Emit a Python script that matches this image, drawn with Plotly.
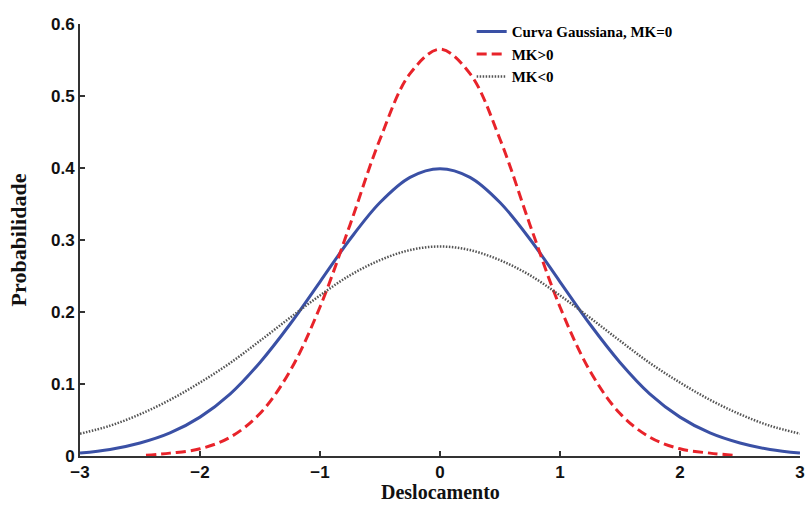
import plotly.graph_objects as go

x_vals = [-3.0, -2.75, -2.5, -2.25, -2.0, -1.75, -1.5, -1.25, -1.0, -0.75, -0.5, -0.25,
          0.0, 0.25, 0.5, 0.75, 1.0, 1.25, 1.5, 1.75, 2.0, 2.25, 2.5, 2.75, 3.0]

gauss_vals = [0.004, 0.009, 0.018, 0.032, 0.054, 0.086, 0.130, 0.183, 0.242, 0.301, 0.352, 0.387,
              0.399, 0.387, 0.352, 0.301, 0.242, 0.183, 0.130, 0.086, 0.054, 0.032, 0.018, 0.009, 0.004]

x_pos = [-2.45, -2.25, -2.0, -1.75, -1.5, -1.25, -1.0, -0.75, -0.5, -0.25,
         0.0, 0.25, 0.5, 0.75, 1.0, 1.25, 1.5, 1.75, 2.0, 2.25, 2.45]
pos_vals = [0.001, 0.004, 0.010, 0.026, 0.059, 0.118, 0.207, 0.321, 0.440, 0.531,
            0.565, 0.531, 0.440, 0.321, 0.207, 0.118, 0.059, 0.026, 0.010, 0.004, 0.001]

neg_vals = [0.031, 0.042, 0.058, 0.078, 0.102, 0.129, 0.160, 0.192, 0.223, 0.251, 0.272, 0.286,
            0.291, 0.286, 0.272, 0.251, 0.223, 0.192, 0.160, 0.129, 0.102, 0.078, 0.058, 0.042, 0.031]

names = ["Curva Gaussiana, MK=0", "MK>0", "MK<0"]
x_title = "Deslocamento"
y_title = "Probabilidade"

x_ticks = [-3, -2, -1, 0, 1, 2, 3]
y_ticks = [0, 0.1, 0.2, 0.3, 0.4, 0.5, 0.6]
y_tick_text = ["0", "0.1", "0.2", "0.3", "0.4", "0.5", "0.6"]

fig = go.Figure()
fig.add_trace(go.Scatter(x=x_vals, y=gauss_vals, mode="lines", name=names[0],
                         line=dict(color="#3a50a5", width=3, shape="spline")))
fig.add_trace(go.Scatter(x=x_pos, y=pos_vals, mode="lines", name=names[1],
                         line=dict(color="#e8232a", width=3, dash="10px,5px", shape="spline")))
fig.add_trace(go.Scatter(x=x_vals, y=neg_vals, mode="lines", name=names[2],
                         line=dict(color="#555555", width=2.5, dash="1.5px,1.5px", shape="spline")))

fig.add_annotation(text=x_title, xref="paper", yref="paper", x=0.5, y=-0.084,
                   xanchor="center", yanchor="middle", showarrow=False, borderpad=0,
                   font=dict(family="Liberation Serif", size=20, color="#111", weight="bold"))

fig.update_layout(
    width=806, height=505,
    margin=dict(l=80, r=6, t=24, b=49),
    plot_bgcolor="white", paper_bgcolor="white",
    showlegend=True,
    legend=dict(x=0.544, y=1.02, xanchor="left", yanchor="top",
                font=dict(family="Liberation Serif", size=15, color="black", weight="bold"),
                bgcolor="rgba(0,0,0,0)", tracegroupgap=0, itemwidth=30),
    xaxis=dict(range=[-3, 3], tickvals=x_ticks, ticks="inside", ticklen=5, tickwidth=1.5,
               tickcolor="#333", showline=True, linecolor="#333", linewidth=2,
               showgrid=False, zeroline=False, automargin=False,
               tickfont=dict(family="Liberation Sans", size=17, color="#111", weight="bold")),
    yaxis=dict(range=[0, 0.6], tickvals=y_ticks, ticktext=y_tick_text, ticks="inside", ticklen=5,
               tickwidth=1.5, tickcolor="#333", showline=True, linecolor="#333", linewidth=2,
               showgrid=False, zeroline=False, automargin=False,
               tickfont=dict(family="Liberation Sans", size=17, color="#111", weight="bold"),
               title=dict(text=y_title, standoff=18,
                          font=dict(family="Liberation Serif", size=22, color="#111", weight="bold"))),
)

fig.write_html("out.html")
